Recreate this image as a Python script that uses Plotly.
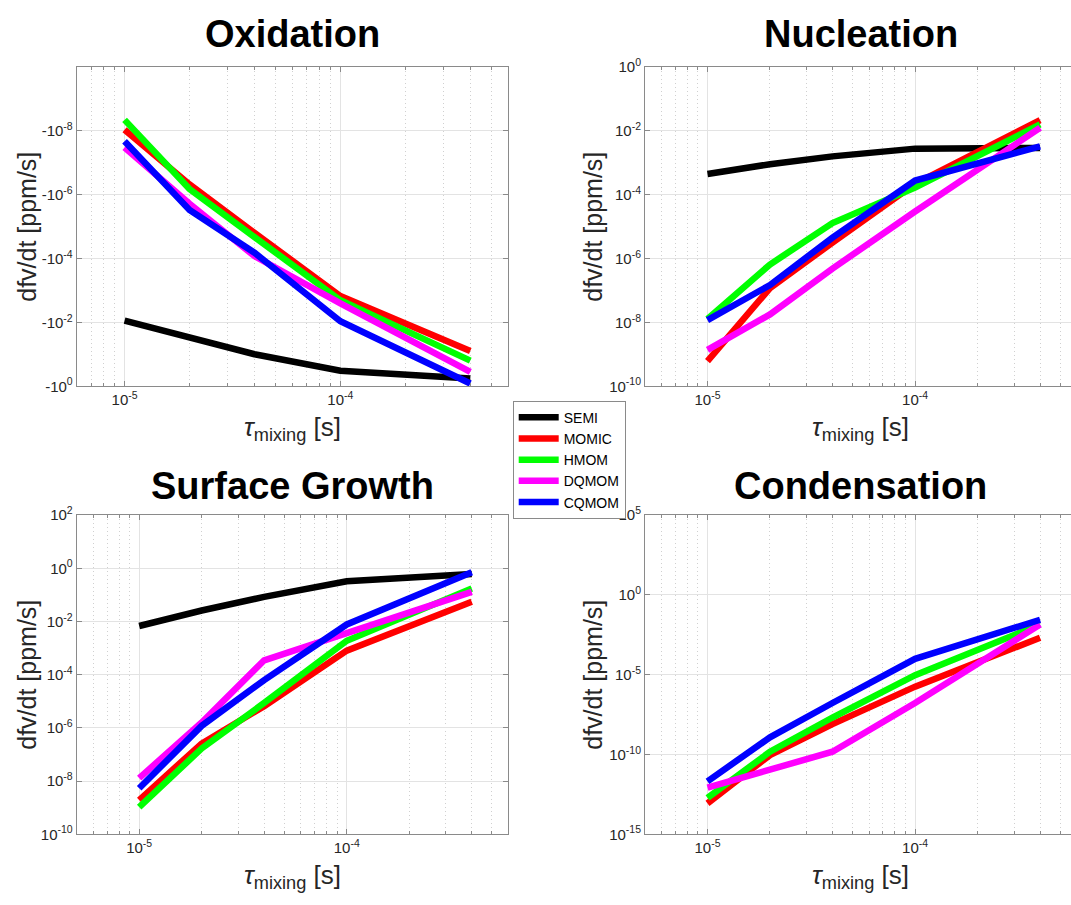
import math
import plotly.graph_objects as go

# ---------------- data ----------------
tau = [1e-5, 2e-5, 4e-5, 1e-4, 4e-4]
methods = ["SEMI", "MOMIC", "HMOM", "DQMOM", "CQMOM"]
colors = ["#000000", "#ff0000", "#00ff00", "#ff00ff", "#0000ff"]

# Oxidation (negative rates)
ox_semi = [-8.7e-3, -2.95e-2, -9.8e-2, -3.2e-1, -5.6e-1]
ox_momic = [-9.1e-9, -4.7e-7, -1.55e-5, -1.48e-3, -7.8e-2]
ox_hmom = [-4.5e-9, -6.6e-7, -2.1e-5, -2.0e-3, -1.55e-1]
ox_dqmom = [-3.3e-8, -1.9e-6, -8.3e-5, -2.5e-3, -3.5e-1]
ox_cqmom = [-2.1e-8, -3.0e-6, -6.5e-5, -9.1e-3, -8.1e-1]

# Nucleation
nu_semi = [4.5e-4, 9.1e-4, 1.6e-3, 2.8e-3, 2.95e-3]
nu_momic = [6.2e-10, 1.2e-7, 3.2e-6, 2.2e-4, 2.2e-2]
nu_hmom = [1.3e-8, 6.6e-7, 1.3e-5, 1.7e-4, 1.6e-2]
nu_dqmom = [1.4e-9, 1.8e-8, 4.9e-7, 3.0e-5, 1.26e-2]
nu_cqmom = [1.2e-8, 1.5e-7, 4.6e-6, 2.8e-4, 3.3e-3]

# Surface growth
sg_semi = [6.8e-3, 2.6e-2, 8.5e-2, 3.3e-1, 6.2e-1]
sg_momic = [1.95e-9, 2.6e-7, 6.6e-6, 8.1e-4, 5.6e-2]
sg_hmom = [1.05e-9, 1.7e-7, 8.7e-6, 1.9e-3, 1.74e-1]
sg_dqmom = [1.3e-8, 1.6e-6, 3.5e-4, 3.8e-3, 1.3e-1]
sg_cqmom = [5.4e-9, 1.2e-6, 6.3e-5, 7.8e-3, 7.1e-1]

# Condensation (no SEMI curve)
co_semi = [None, None, None, None, None]
co_momic = [8.7e-14, 9.3e-11, 8.1e-9, 1.8e-6, 2.1e-3]
co_hmom = [1.9e-13, 1.5e-10, 2.1e-8, 9.5e-6, 1.4e-2]
co_dqmom = [8.5e-13, 1.1e-11, 1.5e-10, 1.7e-7, 1.4e-2]
co_cqmom = [2.1e-12, 1.2e-9, 1.7e-7, 1.0e-4, 2.8e-2]

titles = ["Oxidation", "Nucleation", "Surface Growth", "Condensation"]

# tick labels
ox_ticks = [1e-8, 1e-6, 1e-4, 1e-2, 1e0]
ox_ticktext = ["-10<sup>-8</sup>", "-10<sup>-6</sup>", "-10<sup>-4</sup>", "-10<sup>-2</sup>", "-10<sup>0</sup>"]
nu_ticks = [1e-10, 1e-8, 1e-6, 1e-4, 1e-2, 1e0]
nu_ticktext = ["10<sup>-10</sup>", "10<sup>-8</sup>", "10<sup>-6</sup>", "10<sup>-4</sup>", "10<sup>-2</sup>", "10<sup>0</sup>"]
sg_ticks = [1e-10, 1e-8, 1e-6, 1e-4, 1e-2, 1e0, 1e2]
sg_ticktext = ["10<sup>-10</sup>", "10<sup>-8</sup>", "10<sup>-6</sup>", "10<sup>-4</sup>", "10<sup>-2</sup>", "10<sup>0</sup>", "10<sup>2</sup>"]
co_ticks = [1e-15, 1e-10, 1e-5, 1e0, 1e5]
co_ticktext = ["10<sup>-15</sup>", "10<sup>-10</sup>", "10<sup>-5</sup>", "10<sup>0</sup>", "10<sup>5</sup>"]
x_ticks = [1e-5, 1e-4]
x_ticktext = ["10<sup>-5</sup>", "10<sup>-4</sup>"]
x_minor = [5e-6, 6e-6, 7e-6, 8e-6, 9e-6, 2e-5, 3e-5, 4e-5, 5e-5, 6e-5, 7e-5, 8e-5, 9e-5,
           2e-4, 3e-4, 4e-4, 5e-4, 6e-4]

# ---------------- figure ----------------
W, H = 1071, 905
FONT = "Liberation Sans, Arial, Helvetica, sans-serif"
fig = go.Figure()

panels = [
    (ox_semi, ox_momic, ox_hmom, ox_dqmom, ox_cqmom),
    (nu_semi, nu_momic, nu_hmom, nu_dqmom, nu_cqmom),
    (sg_semi, sg_momic, sg_hmom, sg_dqmom, sg_cqmom),
    (co_semi, co_momic, co_hmom, co_dqmom, co_cqmom),
]

for p, series in enumerate(panels):
    xa = "x" if p == 0 else f"x{p+1}"
    ya = "y" if p == 0 else f"y{p+1}"
    for k, vals in enumerate(series):
        if p == 0:
            yv = [-v for v in vals]  # magnitude on reversed axis
        else:
            yv = vals
        fig.add_trace(go.Scatter(
            x=tau, y=yv, mode="lines", name=methods[k],
            line=dict(color=colors[k], width=6.5),
            xaxis=xa, yaxis=ya, showlegend=(p == 0),
            legendrank=k,
        ))

# geometry (pixels)
left_x = (76.7, 508.3)
right_x = (645.0, 1071.0)
top_y = (57.3, 383.5)
bot_y = (515.0, 841.0)


def xdom(px):
    return [px[0] / W, px[1] / W]


def ydom(py):
    return [1 - py[1] / H, 1 - py[0] / H]


grid_major = "#e3e3e3"
grid_minor = "#d0d0d0"
axis_col = "#8a8a8a"
tick_font = dict(family=FONT, size=15, color="#262626")

xranges = [
    [math.log10(6e-6), math.log10(6e-4)],
    [math.log10(5e-6), math.log10(5e-6) + (1071 - 645) / 207.6],
    [math.log10(5e-6), math.log10(6e-4)],
    [math.log10(5e-6), math.log10(5e-6) + (1071 - 645) / 207.6],
]
yinfo = [
    ([0, -10], ox_ticks, ox_ticktext),
    ([-10, 0], nu_ticks, nu_ticktext),
    ([-10, 2], sg_ticks, sg_ticktext),
    ([-15, 5], co_ticks, co_ticktext),
]
xpix = [left_x, right_x, left_x, right_x]
ypix = [top_y, top_y, bot_y, bot_y]

layout = {}
for p in range(4):
    xk = "xaxis" if p == 0 else f"xaxis{p+1}"
    yk = "yaxis" if p == 0 else f"yaxis{p+1}"
    xa = "x" if p == 0 else f"x{p+1}"
    ya = "y" if p == 0 else f"y{p+1}"
    is_right = p in (1, 3)
    layout[xk] = dict(
        type="log", domain=xdom(xpix[p]), range=xranges[p], anchor=ya,
        tickmode="array", tickvals=x_ticks, ticktext=x_ticktext,
        tickfont=tick_font, ticks="inside", ticklen=5, tickcolor=axis_col,
        showline=True, linecolor=axis_col, linewidth=1, mirror="ticks",
        showgrid=True, gridcolor=grid_major, gridwidth=1,
        minor=dict(tickmode="array", tickvals=x_minor, showgrid=True,
                   gridcolor=grid_minor, griddash="1px,3px", gridwidth=1,
                   ticks="inside", ticklen=3, tickcolor=axis_col),
        zeroline=False, fixedrange=True,
    )
    yr, yt, ytt = yinfo[p]
    layout[yk] = dict(
        type="log", domain=ydom(ypix[p]), range=yr, anchor=xa,
        tickmode="array", tickvals=yt, ticktext=ytt,
        tickfont=tick_font, ticks="inside", ticklen=5, tickcolor=axis_col,
        showline=True, linecolor=axis_col, linewidth=1,
        mirror=False if is_right else "ticks",
        showgrid=True, gridcolor=grid_major, gridwidth=1,
        zeroline=False, fixedrange=True,
    )

annotations = []
# titles
title_pos = [
    ((left_x[0] + left_x[1]) / 2, 23),
    ((645 + 1076) / 2, 23),
    ((left_x[0] + left_x[1]) / 2, 485),
    ((645 + 1076) / 2, 485),
]
for t, (cx, cy) in zip(titles, title_pos):
    annotations.append(dict(
        text="<b>" + t + "</b>", x=cx / W, y=1 - cy / H, xref="paper", yref="paper",
        xanchor="center", yanchor="middle", showarrow=False,
        font=dict(family=FONT, size=38, color="#000000"),
    ))
# y labels
for cx, py in [(27, top_y), (593, top_y), (27, bot_y), (593, bot_y)]:
    cy = (py[0] + py[1]) / 2
    annotations.append(dict(
        text="dfv/dt [ppm/s]", x=cx / W, y=1 - cy / H, xref="paper", yref="paper",
        xanchor="center", yanchor="middle", textangle=-90, showarrow=False,
        font=dict(family=FONT, size=25, color="#262626"),
    ))
# x labels
for cx, cy in [(292.5, 426), (860, 426), (292.5, 884), (860, 884)]:
    annotations.append(dict(
        text="<i>τ</i><sub>mixing</sub> [s]", x=cx / W, y=1 - cy / H,
        xref="paper", yref="paper", xanchor="center", yanchor="middle",
        showarrow=False, font=dict(family=FONT, size=26, color="#262626"),
    ))

fig.update_layout(
    width=W, height=H, margin=dict(l=0, r=0, t=0, b=0),
    paper_bgcolor="white", plot_bgcolor="white",
    font=dict(family=FONT, color="#262626"),
    annotations=annotations,
    legend=dict(
        x=512.7 / W, y=1 - 398 / H, xanchor="left", yanchor="top",
        bgcolor="white", bordercolor="#8a8a8a", borderwidth=1,
        font=dict(family=FONT, size=14, color="#000000"),
        traceorder="normal", itemwidth=40, tracegroupgap=0,
    ),
    **layout,
)

fig.write_html("out.html")
